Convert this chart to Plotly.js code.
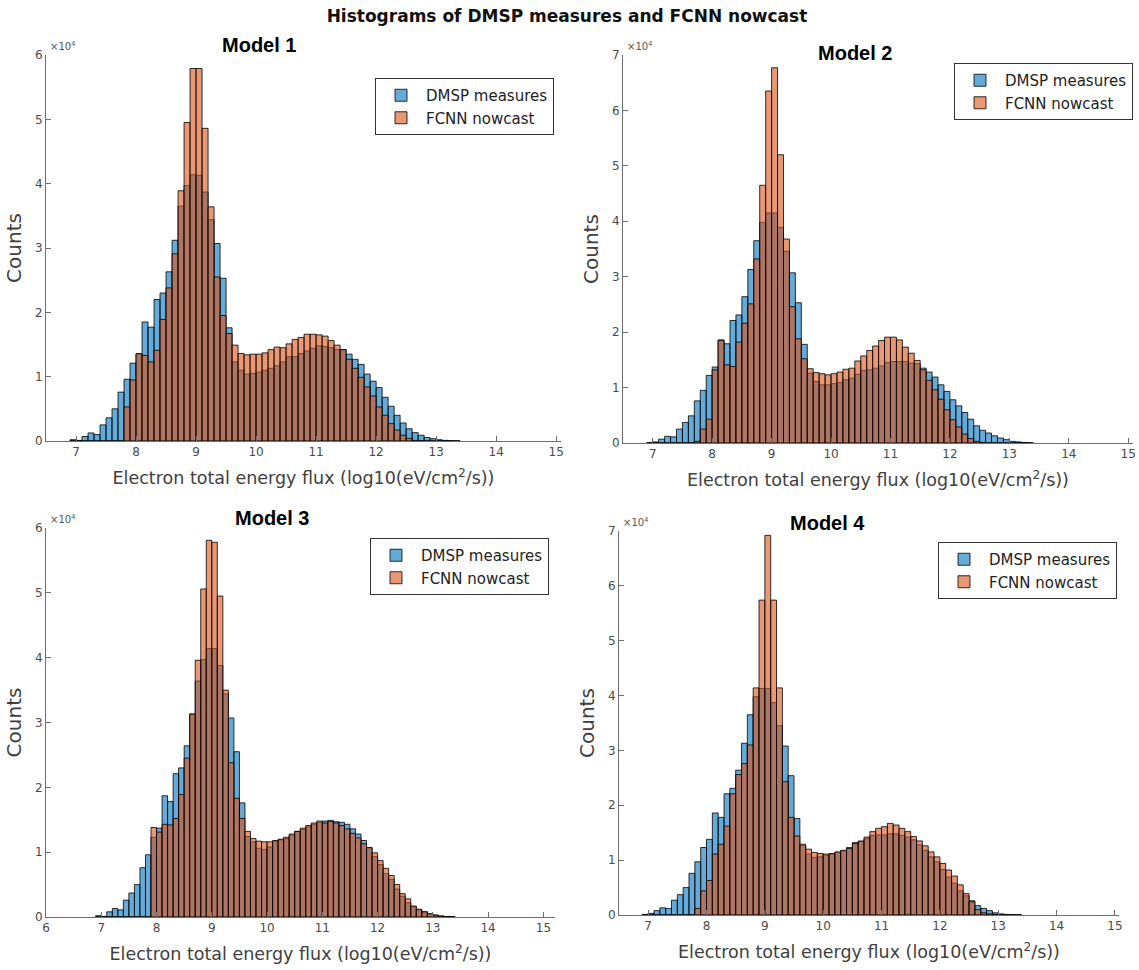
<!DOCTYPE html>
<html>
<head>
<meta charset="utf-8">
<script src="https://cdn.plot.ly/plotly-3.0.1.min.js"></script>
<style>html,body{margin:0;padding:0;background:#fff;}#chart{width:1139px;height:970px;}</style>
</head>
<body>
<div id="chart"></div>
<script>
// Bin centres (bin width 0.1, log10 eV/cm^2/s)
const binCenters = [6.95,7.05,7.15,7.25,7.35,7.45,7.55,7.65,7.75,7.85,
  7.95,8.05,8.15,8.25,8.35,8.45,8.55,8.65,8.75,8.85,
  8.95,9.05,9.15,9.25,9.35,9.45,9.55,9.65,9.75,9.85,
  9.95,10.05,10.15,10.25,10.35,10.45,10.55,10.65,10.75,10.85,
  10.95,11.05,11.15,11.25,11.35,11.45,11.55,11.65,11.75,11.85,
  11.95,12.05,12.15,12.25,12.35,12.45,12.55,12.65,12.75,12.85,
  12.95,13.05,13.15,13.25,13.35];

const seriesNames = ['DMSP measures', 'FCNN nowcast'];
const panelTitles = ['Model 1', 'Model 2', 'Model 3', 'Model 4'];
const xTitle = 'Electron total energy flux (log10(eV/cm<sup>2</sup>/s))';
const yTitle = 'Counts';

const m1Dmsp = [200,100,700,1250,1000,2500,3600,5000,7600,9600,
  12100,13500,18500,17700,22000,23000,26300,31200,36500,39700,
  41400,41300,38700,34400,30700,25300,17600,12300,11000,10400,
  10500,10700,11000,11300,11700,12300,13100,13100,13600,14000,
  14400,14800,14700,14500,14200,14200,13500,12700,11900,10400,
  9300,8300,6800,5400,4000,2800,1900,1300,900,550,
  350,200,100,50,0];
const m1Fcnn = [0,0,0,0,0,0,0,0,0,5300,
  9500,13600,13300,12300,14100,18900,23800,29100,38900,49500,
  57900,57900,48600,36400,25500,19500,16700,14900,13600,13400,
  13500,13500,13700,14200,14600,14500,15100,15800,16100,16600,
  16600,16500,16300,15600,14900,14200,12700,11300,9900,8400,
  7000,5300,4000,2700,1700,900,400,100,50,0,
  0,0,0,0,0];

const m2Dmsp = [50,200,700,1200,1100,2500,3700,4900,7600,9500,
  12200,13700,18600,17900,22100,23100,26400,31300,36500,39800,
  41500,41500,38900,34600,30700,25300,17800,12600,11100,10500,
  10500,10700,10900,11400,11700,12400,13100,13200,13500,13900,
  14500,14700,14700,14700,14400,14300,13500,12800,11900,10500,
  9300,7800,6700,5500,4300,3100,2300,1800,1300,900,
  600,300,200,100,0];
const m2Fcnn = [0,0,0,0,0,0,0,0,300,2500,
  4300,13200,18500,14100,13800,18200,21600,25100,33200,46500,
  63500,67700,52000,36800,24600,18800,15200,13400,12700,12500,
  12300,12500,12800,13300,13500,14800,15700,16700,17500,18500,
  19100,19100,18600,17300,16200,14900,13200,11300,9600,7900,
  6000,4200,2900,1600,800,300,100,0,0,0,
  0,0,0,0,0];

const m3Dmsp = [200,100,800,1300,1100,2600,3700,5000,7600,9600,
  12300,13700,18700,17800,22100,23000,26400,31300,36400,39700,
  41400,41400,38800,34400,30700,25500,17600,12400,11600,10600,
  10400,10800,11700,11900,12100,12600,13200,13500,13900,14300,
  14600,14800,14900,14700,14600,14300,13600,12800,11800,10700,
  9300,8100,6700,5800,4300,3200,2200,1600,1100,800,
  500,300,150,80,40];
const m3Fcnn = [0,0,0,0,0,0,0,0,0,0,
  13800,13100,14300,14200,15200,18900,24500,31300,39600,50600,
  58100,57800,49500,35000,23800,18300,15200,13200,12100,11700,
  11600,11600,11800,12000,12300,12800,13200,13700,14100,14500,
  14800,14500,14700,14500,14100,13600,12900,12200,11300,10700,
  9900,8700,7500,6400,5000,3600,2800,1700,1200,800,
  500,300,150,80,40];

const m4Dmsp = [100,300,800,1300,1200,2700,3700,5000,7600,9700,
  12300,13800,18600,17800,22100,23100,26400,31300,36500,39800,
  41300,41300,38700,34500,30800,25400,17600,12700,11100,10500,
  10600,10900,11100,11400,11700,12300,13200,13400,13900,14500,
  14600,14600,14800,14800,14500,14200,13700,12800,11800,10600,
  9700,8300,6900,5800,4400,3500,2600,1700,1200,800,
  400,200,100,50,0];
const m4Fcnn = [0,0,0,0,0,0,0,0,0,1200,
  4400,6300,11100,12900,16200,22100,25600,27600,31000,41400,
  57400,69200,57400,41400,24300,17800,14400,12900,12000,11400,
  11200,11100,11200,11500,11800,12100,13000,13500,14200,15200,
  15800,16100,16700,16400,15800,15200,14300,13500,12600,11500,
  10600,9400,8200,7100,5500,3900,2400,1000,400,200,
  100,0,0,0,0];

const yMax = [60000, 70000, 60000, 70000];
const xRanges = [[6.5, 15.08], [6.5, 15.08], [6.0, 15.21], [6.5, 15.07]];
const yTickVals = [0,10000,20000,30000,40000,50000,60000,70000];
const yTickText = ['0','1','2','3','4','5','6','7'];

const W = 1139, H = 970;
// plot boxes in pixels: [left, right, top, bottom]
const boxes = [[46, 561, 55, 441], [623, 1133, 55, 443], [46, 555, 528, 917], [619, 1119, 531, 915]];
const legendPos = [[554, 78], [1133, 63], [549, 538], [1117, 542]];
const titlePos = [[259, 45], [855, 53], [272, 518], [827, 523]];

const pairs = [[m1Dmsp, m1Fcnn], [m2Dmsp, m2Fcnn], [m3Dmsp, m3Fcnn], [m4Dmsp, m4Fcnn]];
const colors = ['rgba(0,114,189,0.6)', 'rgba(217,83,25,0.6)'];

const FONT = 'DejaVu Sans, sans-serif';
const data = [];
const layout = {
  width: W, height: H,
  margin: {l: 0, r: 0, t: 0, b: 0},
  paper_bgcolor: '#fff', plot_bgcolor: '#fff',
  barmode: 'overlay', bargap: 0,
  hovermode: false,
  showlegend: true,
  font: {family: FONT, color: '#404040'},
  title: {text: '<b>Histograms of DMSP measures and FCNN nowcast</b>',
    x: 567 / W, xanchor: 'center', y: 1 - 16 / H, yanchor: 'middle',
    xref: 'paper', yref: 'paper',
    font: {family: FONT, size: 17, color: '#111'}},
  annotations: []
};

pairs.forEach((pair, i) => {
  const k = i + 1;
  const sfx = k === 1 ? '' : String(k);
  pair.forEach((vals, s) => {
    data.push({
      type: 'bar', x: binCenters, y: vals, width: 0.1,
      name: seriesNames[s],
      marker: {color: colors[s], line: {color: '#000', width: 0.8}},
      xaxis: 'x' + sfx, yaxis: 'y' + sfx,
      legend: 'legend' + sfx
    });
  });
  const b = boxes[i];
  layout['xaxis' + sfx] = {
    domain: [b[0] / W, b[1] / W], anchor: 'y' + sfx,
    range: xRanges[i], dtick: 1, tick0: 0,
    showline: true, linecolor: '#6e6e6e', linewidth: 1,
    ticks: 'inside', ticklen: 5, tickcolor: '#6e6e6e',
    showgrid: false, zeroline: false, automargin: false,
    tickfont: {family: FONT, size: 12, color: '#4a4a4a'},
    title: {text: xTitle, standoff: 13, font: {family: FONT, size: 17.5, color: '#404040'}}
  };
  layout['yaxis' + sfx] = {
    domain: [1 - b[3] / H, 1 - b[2] / H], anchor: 'x' + sfx,
    range: [0, yMax[i]], tickvals: yTickVals, ticktext: yTickText,
    showline: true, linecolor: '#6e6e6e', linewidth: 1,
    ticks: 'inside', ticklen: 5, tickcolor: '#6e6e6e',
    showgrid: false, zeroline: false, automargin: false,
    tickfont: {family: FONT, size: 12, color: '#4a4a4a'},
    title: {text: yTitle, standoff: 7, font: {family: FONT, size: 20, color: '#404040'}}
  };
  const lp = legendPos[i];
  layout['legend' + sfx] = {
    x: lp[0] / W, xanchor: 'right', xref: 'paper',
    y: 1 - lp[1] / H, yanchor: 'top', yref: 'paper',
    bgcolor: '#fff', bordercolor: '#333', borderwidth: 1,
    font: {family: FONT, size: 15, color: '#222'},
    tracegroupgap: 0, itemwidth: 40
  };
  const tp = titlePos[i];
  layout.annotations.push({
    text: '<b>' + panelTitles[i] + '</b>', showarrow: false,
    x: tp[0] / W, y: 1 - tp[1] / H, xref: 'paper', yref: 'paper',
    xanchor: 'center', yanchor: 'middle',
    font: {family: 'Liberation Sans, Arial, sans-serif', size: 20, color: '#000'}
  });
  layout.annotations.push({
    text: '×10<sup>4</sup>', showarrow: false,
    x: (b[0] + 2) / W, y: 1 - (b[2] - 1) / H, xref: 'paper', yref: 'paper',
    xanchor: 'left', yanchor: 'bottom',
    font: {family: FONT, size: 10, color: '#555'}
  });
});

Plotly.newPlot('chart', data, layout, {displayModeBar: false, staticPlot: true});
</script>
</body>
</html>
